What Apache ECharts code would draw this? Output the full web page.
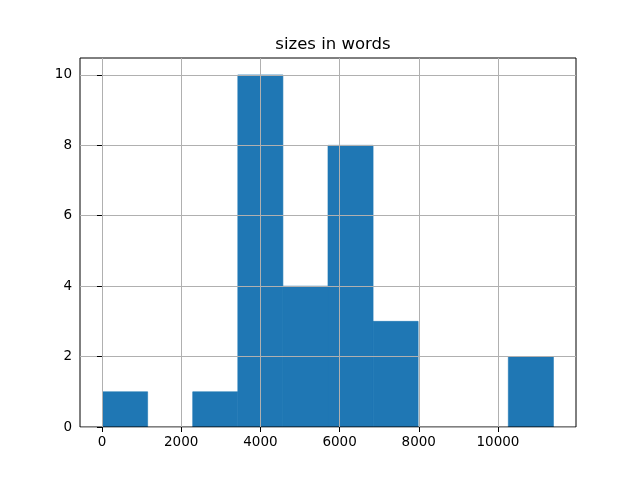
<!DOCTYPE html>
<html><head><meta charset="utf-8">
<script src="https://cdn.jsdelivr.net/npm/echarts@6/dist/echarts.min.js"></script>
<style>html,body{margin:0;padding:0;background:#fff}#c{width:640px;height:480px}</style>
</head><body><div id="c"></div>
<script>
const binEdges = [14, 1153, 2291, 3430, 4569, 5707, 6846, 7984, 9123, 10261, 11400];
const counts = [1, 0, 1, 10, 4, 8, 3, 0, 0, 2];
const xTicks = [0, 2000, 4000, 6000, 8000, 10000];
const yTicks = [0, 2, 4, 6, 8, 10];
const title = 'sizes in words';

const data = counts.map((c, i) => [binEdges[i], binEdges[i + 1], c]);
const font = 'DejaVu Sans';
const chart = echarts.init(document.getElementById('c'), null, {renderer: 'canvas'});
chart.setOption({
  animation: false,
  title: {text: title, left: 328, top: 31, textAlign: 'center',
    textStyle: {fontFamily: font, fontSize: 16.5, fontWeight: 'normal', color: '#000'}},
  grid: {left: 80, right: 64, top: 58, bottom: 53, show: true, borderColor: '#000', borderWidth: 1, backgroundColor: 'transparent'},
  xAxis: {type: 'value', min: -555, max: 11970,
    axisLine: {show: false},
    axisTick: {show: true, customValues: xTicks, length: 5, lineStyle: {color: '#000'}},
    axisLabel: {customValues: xTicks, formatter: v => String(v), fontFamily: font, fontSize: 13.5, color: '#000', margin: 8},
    splitLine: {show: true, lineStyle: {color: '#b0b0b0', width: 1}}},
  yAxis: {type: 'value', min: 0, max: 10.48, interval: 2,
    axisLine: {show: false},
    axisTick: {show: true, customValues: yTicks, length: 5, lineStyle: {color: '#000'}},
    axisLabel: {customValues: yTicks, formatter: v => String(v), fontFamily: font, fontSize: 13.5, color: '#000', margin: 8},
    splitLine: {show: true, lineStyle: {color: '#b0b0b0', width: 1}}},
  series: [{type: 'custom', z: -1, data: data,
    renderItem: function (params, api) {
      if (api.value(2) <= 0) return null;
      const p0 = api.coord([api.value(0), 0]);
      const p1 = api.coord([api.value(1), api.value(2)]);
      return {type: 'rect', shape: {x: p0[0], y: p1[1], width: p1[0] - p0[0], height: p0[1] - p1[1]},
        style: {fill: '#1f77b4', stroke: '#1f77b4', lineWidth: 0.6}};
    }}]
});
</script></body></html>
